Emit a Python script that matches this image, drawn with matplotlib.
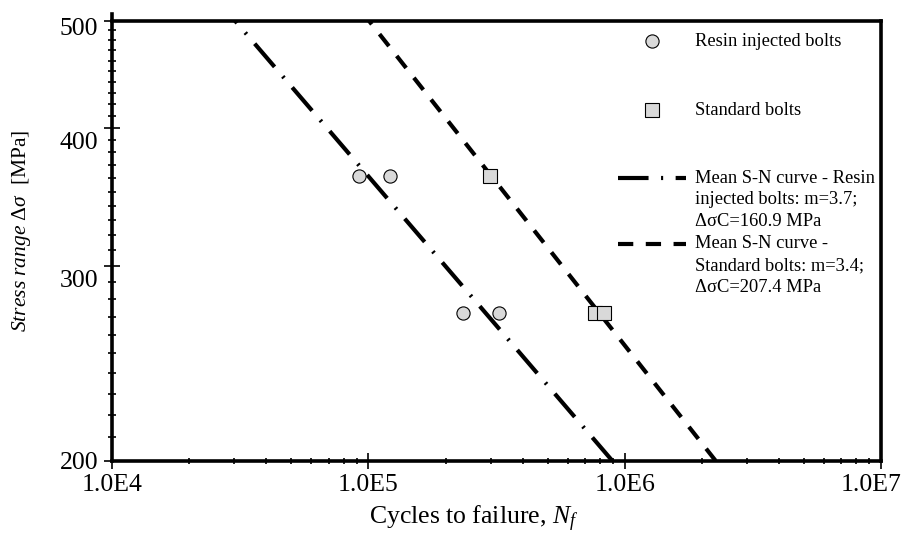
import numpy as np
import matplotlib
matplotlib.use('Agg')
import matplotlib.pyplot as plt
from matplotlib.ticker import FixedLocator, NullFormatter, LogLocator
from matplotlib.transforms import ScaledTranslation

plt.rcParams['font.family'] = ['Liberation Serif', 'DejaVu Serif']
plt.rcParams['mathtext.fontset'] = 'custom'
plt.rcParams['mathtext.rm'] = 'Liberation Serif'
plt.rcParams['mathtext.it'] = 'Liberation Serif:italic'
plt.rcParams['lines.scale_dashes'] = False

# test results
resin_N = [9.2e4, 1.21e5, 2.35e5, 3.24e5]
resin_S = [362, 362, 272, 272]
std_N = [2.97e5, 7.64e5, 8.32e5]
std_S = [362, 272, 272]

# mean S-N curves, N = 2e6 * (dsC / ds)^m
resin_m, resin_dsc = 3.7, 160.9
std_m, std_dsc = 3.4, 207.4
S_range = np.array([200.0, 500.0])

x_ticks = [1e4, 1e5, 1e6, 1e7]
x_labels = ['1.0E4', '1.0E5', '1.0E6', '1.0E7']
y_ticks = [200, 300, 400, 500]

leg_labels = [
    ['Resin injected bolts'],
    ['Standard bolts'],
    ['Mean S-N curve - Resin', 'injected bolts: m=3.7;', 'ΔσC=160.9 MPa'],
    ['Mean S-N curve -', 'Standard bolts: m=3.4;', 'ΔσC=207.4 MPa'],
]

fig = plt.figure(figsize=(9.02, 5.37), dpi=100)
ax = fig.add_axes([0.1242, 0.1421, 0.8525, 0.8197])

grey = '#d9d9d9'
dashdot = (0, (22, 9, 1.5, 9))
dashed = (0, (11, 9))
fs = 18.5

N_resin = 2e6 * (resin_dsc / S_range) ** resin_m
N_std = 2e6 * (std_dsc / S_range) ** std_m
ax.plot(N_resin, S_range, color='black', lw=3, linestyle=dashdot, zorder=2)
ax.plot(N_std, S_range, color='black', lw=3, linestyle=dashed, zorder=2)

ax.plot(resin_N, resin_S, 'o', ms=9.5, mfc=grey, mec='black', mew=0.8, zorder=3)
ax.plot(std_N, std_S, 's', ms=9.5, mfc=grey, mec='black', mew=0.8, zorder=3)

ax.set_xscale('log')
ax.set_yscale('log')
ax.set_xlim(1e4, 1e7)
ax.set_ylim(200, 500)

ax.xaxis.set_major_locator(FixedLocator(x_ticks))
ax.set_xticklabels(x_labels)
ax.xaxis.set_minor_locator(LogLocator(base=10, subs=range(2, 10), numticks=20))
ax.xaxis.set_minor_formatter(NullFormatter())

ax.yaxis.set_major_locator(FixedLocator(y_ticks))
ax.set_yticklabels([str(v) for v in y_ticks])
ax.yaxis.set_minor_locator(FixedLocator([v for v in range(210, 500, 10) if v % 100]))
ax.yaxis.set_minor_formatter(NullFormatter())

ax.tick_params(axis='both', which='both', direction='inout', width=1.2,
               top=False, right=False, labelsize=fs)
ax.tick_params(axis='x', which='major', length=11, pad=4)
ax.tick_params(axis='x', which='minor', length=4.5)
ax.tick_params(axis='y', which='major', length=12, pad=4)
ax.tick_params(axis='y', which='minor', length=5.5)

for s in ax.spines.values():
    s.set_linewidth(2.6)
ax.spines['left'].set_bounds(200, 507)

ax.set_xlabel('Cycles to failure, $N_f$', fontsize=fs)
ax.xaxis.set_label_coords(0.470, -0.098)
ax.set_ylabel(r'$\mathit{Stress\ range\ Δσ}$  [MPa]', fontsize=15.5)
ax.yaxis.set_label_coords(-0.103, 0.522)

# tick label nudges (inches)
last = ax.get_xticklabels()[-1]
last.set_transform(last.get_transform() + ScaledTranslation(-0.10, 0, fig.dpi_scale_trans))
y_shift = [0, -0.13, -0.13, -0.055]
for lab, dy in zip(ax.get_yticklabels(), y_shift):
    lab.set_transform(lab.get_transform() + ScaledTranslation(0, dy, fig.dpi_scale_trans))

# legend, drawn in axes coordinates
hx = 0.7022
tx = 0.758
ax.plot([hx], [0.9534], 'o', ms=9.5, mfc=grey, mec='black', mew=0.8,
        transform=ax.transAxes, clip_on=False)
ax.plot([hx], [0.7966], 's', ms=9.5, mfc=grey, mec='black', mew=0.8,
        transform=ax.transAxes, clip_on=False)
ax.plot([0.658, 0.7464], [0.6422, 0.6422], color='black', lw=3, linestyle=dashdot,
        transform=ax.transAxes)
ax.plot([0.658, 0.7464], [0.4923, 0.4923], color='black', lw=3, linestyle=dashed,
        transform=ax.transAxes)

row_y = [0.9534, 0.7966, 0.6422, 0.4923]
step = 21.7 / 440.2
for lines, y0 in zip(leg_labels, row_y):
    for i, line in enumerate(lines):
        ax.text(tx, y0 - i * step, line, transform=ax.transAxes, fontsize=13.3,
                ha='left', va='center')

fig.savefig('out.png', dpi=100)
